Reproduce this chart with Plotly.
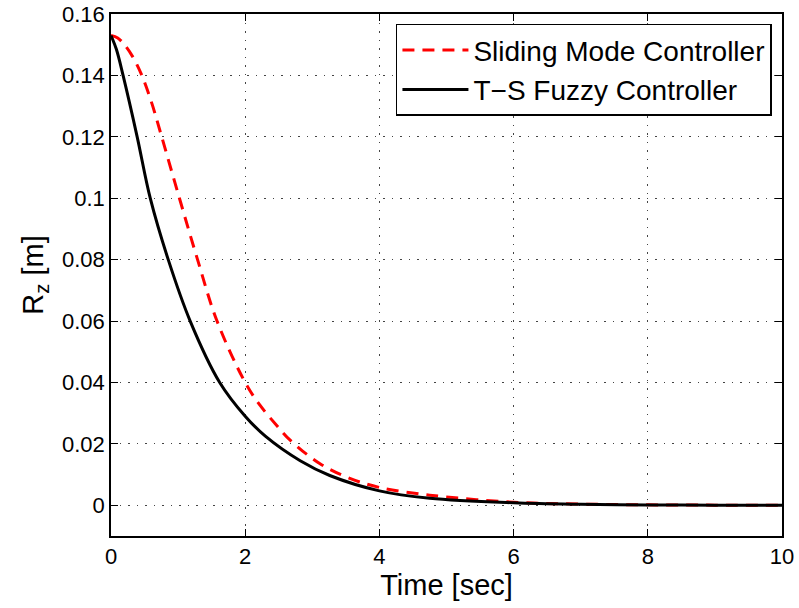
import plotly.graph_objects as go

# Sliding Mode Controller (red dashed)
t_smc = [0, 0.1, 0.2, 0.32, 0.45, 0.6, 0.74, 1.02, 1.29, 1.58, 2.0, 2.22, 2.47, 2.67, 3.11, 3.51, 4, 4.75, 6, 7, 8, 9, 10]
rz_smc = [0.153, 0.1522, 0.1500, 0.1462, 0.1405, 0.1315, 0.1212, 0.100, 0.080, 0.060, 0.040, 0.0326, 0.026, 0.0212,
          0.0136, 0.0092, 0.0058, 0.0033, 0.0010, 0.0004, 0.00015, 0.00005, 0.0]

# T-S Fuzzy Controller (black solid)
t_ts = [0, 0.08, 0.18, 0.39, 0.585, 0.853, 1.18, 1.62, 2.0, 2.3, 2.82, 3.26, 4, 4.75, 6, 7, 8, 9, 10]
rz_ts = [0.153, 0.1485, 0.140, 0.120, 0.100, 0.080, 0.060, 0.040, 0.0290, 0.0225, 0.0145,
         0.0097, 0.0047, 0.0023, 0.0008, 0.0003, 0.0001, 0.00004, 0.0]

x_ticks = [0, 2, 4, 6, 8, 10]
y_ticks = [0, 0.02, 0.04, 0.06, 0.08, 0.1, 0.12, 0.14, 0.16]
y_tick_text = ["0", "0.02", "0.04", "0.06", "0.08", "0.1", "0.12", "0.14", "0.16"]

font = "Liberation Sans, Arial, Helvetica, sans-serif"

fig = go.Figure()
fig.add_trace(go.Scatter(x=t_smc, y=rz_smc, mode="lines", name="Sliding Mode Controller",
                         line=dict(color="#ff0000", width=3, dash="12px,8px", shape="spline", smoothing=1)))
fig.add_trace(go.Scatter(x=t_ts, y=rz_ts, mode="lines", name="T\u2212S Fuzzy Controller",
                         line=dict(color="#000000", width=3, shape="spline", smoothing=1)))

axis_common = dict(showline=True, linecolor="black", linewidth=1.5, mirror="ticks",
                   ticks="inside", ticklen=7, tickcolor="black", tickwidth=1,
                   showgrid=True, gridcolor="#444444", griddash="1.5px,7px", gridwidth=1,
                   zeroline=False, automargin=False,
                   tickfont=dict(family=font, size=22, color="black"))

fig.update_xaxes(range=[0, 10], tickvals=x_ticks,
                 title=dict(text="Time [sec]", font=dict(family=font, size=29, color="black"), standoff=2),
                 **axis_common)
fig.update_yaxes(range=[-0.01, 0.16], tickvals=y_ticks, ticktext=y_tick_text,
                 title=dict(text="R<sub>z</sub> [m]", font=dict(family=font, size=29, color="black"), standoff=10),
                 **axis_common)

fig.update_layout(
    width=799, height=608,
    margin=dict(l=111, r=17, t=14, b=72),
    plot_bgcolor="white", paper_bgcolor="white",
    font=dict(family=font, color="black"),
    legend=dict(x=0.985, y=0.981, xanchor="right", yanchor="top",
                bgcolor="white", bordercolor="black", borderwidth=1.5,
                font=dict(family=font, size=28, color="black"),
                itemwidth=66, tracegroupgap=0),
)

fig.write_html("out.html")
